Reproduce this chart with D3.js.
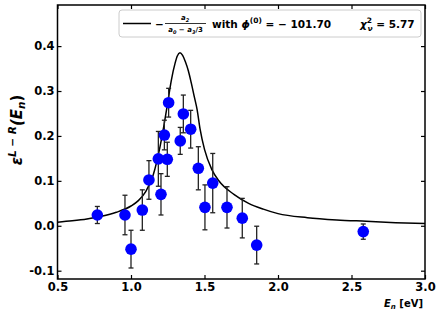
<!DOCTYPE html>
<html><head><meta charset="utf-8">
<script src="https://cdn.jsdelivr.net/npm/d3@7/dist/d3.min.js"></script>
<style>body{margin:0;background:#fff}svg{display:block}text{font-family:"DejaVu Sans",sans-serif;font-weight:bold}</style>
</head><body>
<script>
// Measured data points
const energies = [0.771, 0.959, 1.000, 1.077, 1.122, 1.186, 1.204, 1.227, 1.247, 1.256, 1.335, 1.356, 1.406, 1.458, 1.503, 1.556, 1.653, 1.757, 1.855, 2.580];
const values   = [0.024, 0.024, -0.052, 0.035, 0.102, 0.149, 0.070, 0.202, 0.148, 0.274, 0.189, 0.249, 0.215, 0.128, 0.041, 0.095, 0.041, 0.017, -0.043, -0.013];
const errors   = [0.019, 0.044, 0.042, 0.045, 0.043, 0.061, 0.046, 0.033, 0.038, 0.032, 0.030, 0.042, 0.042, 0.048, 0.050, 0.066, 0.046, 0.044, 0.042, 0.017];
// Fit curve
const curveE = [0.5, 0.6, 0.7, 0.8, 0.9, 1.0, 1.05, 1.1, 1.15, 1.2, 1.225, 1.25, 1.275, 1.3, 1.315, 1.333, 1.35, 1.37, 1.39, 1.41, 1.43, 1.45, 1.47, 1.5, 1.55, 1.6, 1.7, 1.8, 1.9, 2.0, 2.2, 2.4, 2.6, 2.8, 3.0];
const curveV = [0.008, 0.011, 0.015, 0.021, 0.030, 0.044, 0.056, 0.076, 0.112, 0.180, 0.225, 0.275, 0.325, 0.362, 0.378, 0.385, 0.380, 0.365, 0.345, 0.318, 0.288, 0.258, 0.215, 0.170, 0.125, 0.099, 0.070, 0.050, 0.037, 0.027, 0.018, 0.013, 0.010, 0.007, 0.005];
const xTicks = [0.5, 1.0, 1.5, 2.0, 2.5, 3.0];
const yTicks = [-0.1, 0.0, 0.1, 0.2, 0.3, 0.4];

const W = 443, H = 315;
const L = 57.5, R = 425, T = 5, B = 279;
const svg = d3.select("body").append("svg").attr("width", W).attr("height", H);
const x = d3.scaleLinear().domain([0.5, 3.0]).range([L, R]);
const y = d3.scaleLinear().domain([-0.1185, 0.4915]).range([B, T]);

svg.append("clipPath").attr("id","clip").append("rect").attr("x",L).attr("y",T).attr("width",R-L).attr("height",B-T);

// curve
const pts = curveE.map((e,i)=>[e, curveV[i]]);
svg.append("path").attr("clip-path","url(#clip)")
  .attr("d", d3.line().x(d=>x(d[0])).y(d=>y(d[1])).curve(d3.curveMonotoneX)(pts))
  .attr("fill","none").attr("stroke","#000").attr("stroke-width",1.5);

// error bars
const g = svg.append("g");
energies.forEach((e,i)=>{
  const cx = x(e), y1 = y(values[i]+errors[i]), y2 = y(values[i]-errors[i]);
  g.append("line").attr("x1",cx).attr("x2",cx).attr("y1",y1).attr("y2",y2).attr("stroke","#222").attr("stroke-width",1.3);
  [y1,y2].forEach(yy=>g.append("line").attr("x1",cx-2.5).attr("x2",cx+2.5).attr("y1",yy).attr("y2",yy).attr("stroke","#222").attr("stroke-width",1.3));
});
g.selectAll("circle").data(energies).join("circle")
  .attr("cx",d=>x(d)).attr("cy",(d,i)=>y(values[i])).attr("r",5.8).attr("fill","#0000ff");

// axes (ticks inward)
const ax = (gen, tx) => svg.append("g").attr("transform", tx).call(gen);
const fmt = d3.format(".1f");
const axB = ax(d3.axisBottom(x).tickValues(xTicks).tickFormat(fmt).tickSizeInner(-4).tickSizeOuter(0).tickPadding(4), `translate(0,${B})`);
const axT = ax(d3.axisTop(x).tickValues(xTicks).tickFormat("").tickSizeInner(-4).tickSizeOuter(0), `translate(0,${T})`);
const axL = ax(d3.axisLeft(y).tickValues(yTicks).tickFormat(d=>d3.format(".1f")(d).replace("−","-")).tickSizeInner(-4).tickSizeOuter(0).tickPadding(3), `translate(${L},0)`);
const axR = ax(d3.axisRight(y).tickValues(yTicks).tickFormat("").tickSizeInner(-4).tickSizeOuter(0), `translate(${R},0)`);
[axB, axT, axL, axR].forEach(a=>{
  a.select(".domain").remove();
  a.selectAll(".tick line").attr("stroke","#000").attr("stroke-width",1.2);
  a.selectAll("text").attr("font-size",11.5).attr("font-family","DejaVu Sans").attr("font-weight","bold").attr("fill","#000");
});
svg.append("rect").attr("x",L).attr("y",T).attr("width",R-L).attr("height",B-T).attr("fill","none").attr("stroke","#000").attr("stroke-width",1.5);

// axis labels
svg.append("text").attr("transform","translate(22,130) rotate(-90)").attr("text-anchor","middle").attr("font-size",15).attr("font-style","italic")
  .call(t=>{
    t.append("tspan").text("ε");
    t.append("tspan").attr("font-size",10.5).attr("dy",-6).text("L − R");
    t.append("tspan").attr("dy",6).text("(E");
    t.append("tspan").attr("font-size",10.5).attr("dy",3).text("n");
    t.append("tspan").attr("dy",-3).attr("font-style","normal").text(")");
  });
svg.append("text").attr("x",423).attr("y",307).attr("text-anchor","end").attr("font-size",10)
  .call(t=>{
    t.append("tspan").attr("font-style","italic").text("E");
    t.append("tspan").attr("font-style","italic").attr("font-size",7).attr("dy",2).text("n");
    t.append("tspan").attr("dy",-2).text(" [eV]");
  });

// legend
const lg = svg.append("g");
lg.append("rect").attr("x",119).attr("y",10).attr("width",302).attr("height",27).attr("rx",3)
  .attr("fill","#fff").attr("fill-opacity",0.85).attr("stroke","#ccc").attr("stroke-width",1);
lg.append("line").attr("x1",123).attr("x2",151).attr("y1",23.5).attr("y2",23.5).attr("stroke","#000").attr("stroke-width",1.5);
lg.append("text").attr("x",155).attr("y",27.5).attr("font-size",10.5).text("−");
lg.append("text").attr("x",185).attr("y",20).attr("text-anchor","middle").attr("font-size",7).attr("font-style","italic")
  .call(t=>{t.append("tspan").text("a");t.append("tspan").attr("font-size",5).attr("dy",1.5).text("2");});
lg.append("line").attr("x1",165).attr("x2",206).attr("y1",23.5).attr("y2",23.5).attr("stroke","#000").attr("stroke-width",0.8);
lg.append("text").attr("x",185.5).attr("y",32).attr("text-anchor","middle").attr("font-size",7).attr("font-style","italic")
  .call(t=>{
    t.append("tspan").text("a");t.append("tspan").attr("font-size",5).attr("dy",1.5).text("0");
    t.append("tspan").attr("dy",-1.5).attr("font-style","normal").text(" − ");
    t.append("tspan").text("a");t.append("tspan").attr("font-size",5).attr("dy",1.5).text("3");
    t.append("tspan").attr("dy",-1.5).attr("font-style","normal").text("/3");
  });
lg.append("text").attr("x",212).attr("y",27.5).attr("font-size",10.5)
  .call(t=>{
    t.append("tspan").text("with ");
    t.append("tspan").attr("font-style","italic").text("ϕ");
    t.append("tspan").attr("font-size",7.5).attr("dy",-4.5).text("(0)");
    t.append("tspan").attr("dy",4.5).text(" = − 101.70");
  });
lg.append("text").attr("x",360).attr("y",27.5).attr("font-size",10.5)
  .call(t=>{
    t.append("tspan").attr("font-style","italic").text("χ");
    t.append("tspan").attr("font-size",7.5).attr("dy",-4.5).text("2");
    t.append("tspan").attr("font-size",7.5).attr("font-style","italic").attr("dx",-4.5).attr("dy",7.5).text("ν");
    t.append("tspan").attr("dy",-3).text(" = 5.77");
  });
</script>
</body></html>
